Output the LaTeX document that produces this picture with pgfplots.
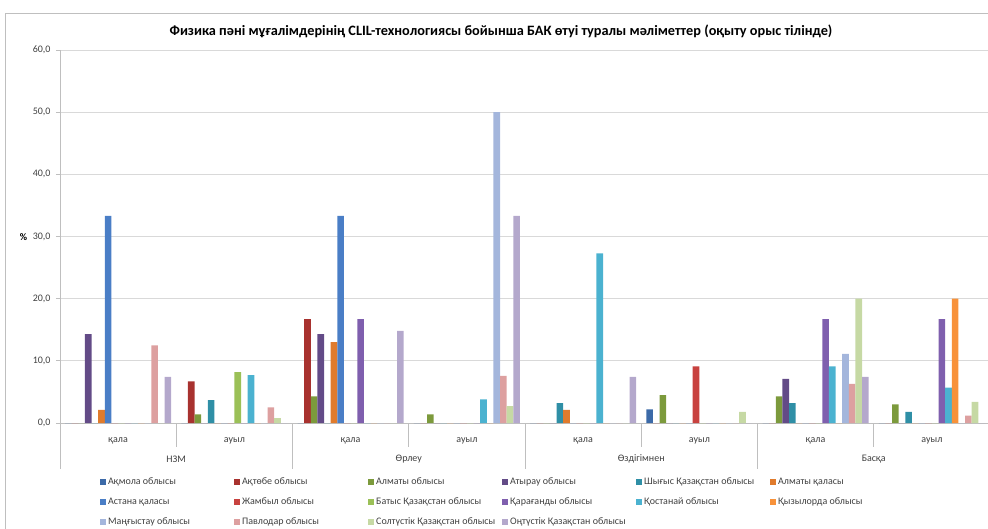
\documentclass[border=0pt]{standalone}
\usepackage{fontspec}
\setmainfont{Carlito}
\usepackage{pgfplots}
\pgfplotsset{compat=1.18}
\usepackage{pgfplotstable}

\definecolor{c1}{HTML}{3C6AA8}
\definecolor{c2}{HTML}{A8322F}
\definecolor{c3}{HTML}{7C9A3C}
\definecolor{c4}{HTML}{634B87}
\definecolor{c5}{HTML}{2F8FA6}
\definecolor{c6}{HTML}{E07B2C}
\definecolor{c7}{HTML}{4A7EC6}
\definecolor{c8}{HTML}{C8423F}
\definecolor{c9}{HTML}{9BC057}
\definecolor{c10}{HTML}{7F5FAE}
\definecolor{c11}{HTML}{4BB2D0}
\definecolor{c12}{HTML}{F8923A}
\definecolor{c13}{HTML}{A4B6DC}
\definecolor{c14}{HTML}{DDA0A0}
\definecolor{c15}{HTML}{C6D9A4}
\definecolor{c16}{HTML}{B4A8CC}
\definecolor{gridc}{HTML}{D9D9D9}
\definecolor{axc}{HTML}{BFBFBF}
\definecolor{txt}{HTML}{404040}

% groups: 0 НЗМ қала, 1 НЗМ ауыл, 2 Өрлеу қала, 3 Өрлеу ауыл,
% 4 Өздігімнен қала, 5 Өздігімнен ауыл, 6 Басқа қала, 7 Басқа ауыл
\pgfplotstableread{
g s1  s2   s3  s4   s5  s6   s7   s8  s9  s10  s11  s12  s13  s14  s15  s16
0 0   0    0   14.3 0   2.1  33.3 0   0   0    0    0    0    12.5 0    7.4
1 0   6.7  1.4 0    3.7 0    0    0   8.2 0    7.7  0    0    2.5  0.8  0
2 0   16.7 4.3 14.3 0   13.0 33.3 0   0   16.7 0    0    0    0    0    14.8
3 0   0    1.4 0    0   0    0    0   0   0    3.8  0    50.0 7.6  2.7  33.3
4 0   0    0   0    3.2 2.1  0    0   0   0    27.3 0    0    0    0    7.4
5 2.2 0    4.5 0    0   0    0    9.1 0   0    0    0    0    0    1.8  0
6 0   0    4.3 7.1  3.2 0    0    0   0   16.7 9.1  0    11.1 6.3  20.0 7.4
7 0   0    3.0 0    1.8 0    0    0   0   16.7 5.7  20.0 0    1.2  3.4  0
}\datatable

\begin{document}
\begin{tikzpicture}[x=1pt,y=1pt]
\useasboundingbox (0,0) rectangle (988,528);
\clip (0,0) rectangle (988,528);
\draw[axc, line width=0.8pt] (5,-10) -- (5,515) -- (1000,515);
\node[font=\bfseries\fontsize{14.3}{16}\selectfont] at (501,497) {Физика пәні мұғалімдерінің CLIL-технологиясы бойынша БАК өтуі туралы мәліметтер (оқыту орыс тілінде)};
\node[font=\bfseries\fontsize{10}{12}\selectfont] at (23.5,291) {\%};
\begin{axis}[
  at={(60pt,105pt)}, anchor=south west,
  scale only axis, width=930pt, height=373pt,
  xmin=-0.5, xmax=7.5, ymin=0, ymax=60,
  ybar=0pt, bar width=6.64pt,
  axis lines*=left,
  axis line style={axc, line width=0.8pt},
  ytick={0,10,...,60},
  ymajorgrids, grid style={gridc, line width=0.8pt},
  xtick={0,...,7},
  xticklabels={қала,ауыл,қала,ауыл,қала,ауыл,қала,ауыл},
  x tick style={draw=none},
  y tick style={axc, line width=0.8pt},
  tick align=outside, major tick length=4pt,
  yticklabel style={font=\fontsize{10}{12}\selectfont, xshift=-2pt, text=txt},
  xticklabel style={font=\fontsize{10}{12}\selectfont, yshift=-7pt, text=txt},
  /pgf/number format/.cd, fixed, fixed zerofill, precision=1, use comma, assume math mode=true,
  /pgfplots/.cd,
  clip=false,
  legend columns=6,
  legend cell align=left,
  legend image code/.code={\fill[#1] (0pt,-3pt) rectangle (6pt,3pt);},
  legend style={draw=none, fill=none, at={(0.043,-0.142)}, anchor=north west,
     font=\fontsize{10}{12}\selectfont, text=txt, row sep=7.5pt, inner sep=0pt,
     /tikz/every even column/.append style={column sep=0pt}},
]
\pgfplotsinvokeforeach{1,...,16}{
  \addplot[fill=c#1, draw=none] table[x=g, y=s#1] {\datatable};
}
\legend{
\makebox[124pt][l]{Ақмола облысы},
\makebox[124pt][l]{Ақтөбе облысы},
\makebox[124pt][l]{Алматы облысы},
\makebox[124pt][l]{Атырау облысы},
\makebox[124pt][l]{Шығыс Қазақстан облысы},
Алматы қаласы,
\makebox[124pt][l]{Астана қаласы},
\makebox[124pt][l]{Жамбыл облысы},
\makebox[124pt][l]{Батыс Қазақстан облысы},
\makebox[124pt][l]{Қарағанды облысы},
\makebox[124pt][l]{Қостанай облысы},
Қызылорда облысы,
\makebox[124pt][l]{Маңғыстау облысы},
\makebox[124pt][l]{Павлодар облысы},
\makebox[124pt][l]{Солтүстік Қазақстан облысы},
Оңтүстік Қазақстан облысы}
\pgfplotsinvokeforeach{0.5,2.5,4.5,6.5}{
  \draw[axc, line width=0.8pt] (axis cs:#1,0) -- ([yshift=-24pt]axis cs:#1,0);
}
\pgfplotsinvokeforeach{-0.5,1.5,3.5,5.5,7.5}{
  \draw[axc, line width=0.8pt] (axis cs:#1,0) -- ([yshift=-46pt]axis cs:#1,0);
}
\node[font=\fontsize{10}{12}\selectfont, text=txt] at ([yshift=-36pt]axis cs:0.5,0) {НЗМ};
\node[font=\fontsize{10}{12}\selectfont, text=txt] at ([yshift=-36pt]axis cs:2.5,0) {Өрлеу};
\node[font=\fontsize{10}{12}\selectfont, text=txt] at ([yshift=-36pt]axis cs:4.5,0) {Өздігімнен};
\node[font=\fontsize{10}{12}\selectfont, text=txt] at ([yshift=-36pt]axis cs:6.5,0) {Басқа};
\end{axis}
\end{tikzpicture}
\end{document}
